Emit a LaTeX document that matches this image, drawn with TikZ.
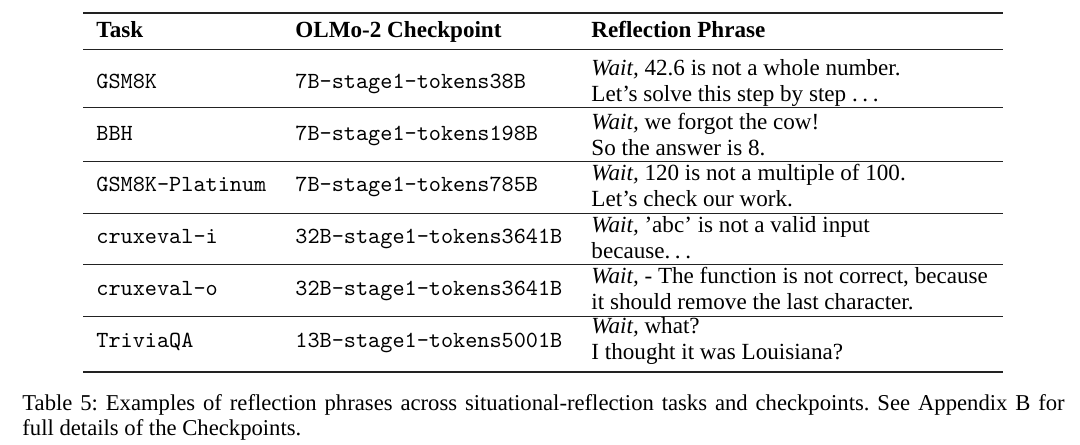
\documentclass[tikz,border=0pt]{standalone}
\usepackage{fontspec}
\setmainfont{Liberation Serif}
\usepackage{xcolor}
\usetikzlibrary{positioning}
\definecolor{RuleBlack}{HTML}{222222}
\newcommand{\spdots}{\mbox{.\kern0.2em.\kern0.2em.}}

\begin{document}
\begin{tikzpicture}[x=0.45pt, y=-0.45pt,
    cell/.style={anchor=west, inner sep=0pt, font=\fontsize{10.4}{11.7}\selectfont},
    code/.style={anchor=west, inner sep=0pt, text height=1.6ex, text depth=0.3ex,
        font=\fontsize{10.4}{12}\selectfont\ttfamily},
    head/.style={cell, text height=1.6ex, text depth=0.4ex,
        font=\fontsize{10.4}{11.7}\selectfont\bfseries},
    phrase/.style={cell, align=left},
    toprule/.style={RuleBlack, line width=1pt},
    midrule/.style={RuleBlack, line width=0.45pt}]
    \useasboundingbox (0, 0) rectangle (1080, 445);

    % Rules
    \draw[toprule] (83, 13) -- (1003, 13);
    \draw[midrule] (83, 50) -- (1003, 50);
    \draw[midrule] (83, 108) -- (1003, 108);
    \draw[midrule] (83, 161) -- (1003, 161);
    \draw[midrule] (83, 213) -- (1003, 213);
    \draw[midrule] (83, 264) -- (1003, 264);
    \draw[midrule] (83, 316) -- (1003, 316);
    \draw[toprule] (83, 372) -- (1003, 372);

    % Header
    \node[head] (task) at (96, 31) {Task};
    \node[head] (ckpt) at (295, 31) {OLMo-2 Checkpoint};
    \node[head] (phrase) at (591, 31) {Reflection Phrase};

    % Rows
    \node[code] (gsm) at (96, 82) {GSM8K};
    \node[code] (gsmckpt) at (295, 82) {7B-stage1-tokens38B};
    \node[phrase] (gsmphrase) at (591, 83) {\textit{Wait,} 42.6 is not a whole number.\\Let's solve this step by step \spdots};

    \node[code] (bbh) at (96, 134) {BBH};
    \node[code] (bbhckpt) at (295, 134) {7B-stage1-tokens198B};
    \node[phrase] (bbhphrase) at (591, 135) {\textit{Wait,} we forgot the cow!\\So the answer is 8.};

    \node[code] (plat) at (96, 185) {GSM8K-Platinum};
    \node[code] (platckpt) at (295, 185) {7B-stage1-tokens785B};
    \node[phrase] (platphrase) at (591, 186) {\textit{Wait,} 120 is not a multiple of 100.\\Let's check our work.};

    \node[code] (cruxi) at (96, 237) {cruxeval-i};
    \node[code] (cruxickpt) at (295, 237) {32B-stage1-tokens3641B};
    \node[phrase] (cruxiphrase) at (591, 238) {\textit{Wait,} 'abc' is not a valid input\\because\spdots};

    \node[code] (cruxo) at (96, 289) {cruxeval-o};
    \node[code] (cruxockpt) at (295, 289) {32B-stage1-tokens3641B};
    \node[phrase] (cruxophrase) at (591, 289) {\textit{Wait,} - The function is not correct, because\\it should remove the last character.};

    \node[code] (trivia) at (96, 341) {TriviaQA};
    \node[code] (triviackpt) at (295, 341) {13B-stage1-tokens5001B};
    \node[phrase] (triviaphrase) at (591, 341) {\textit{Wait,} what?\\I thought it was Louisiana?};

    % Caption
    \node[anchor=north west, inner sep=0pt, text width=469pt, align=justify,
          font=\fontsize{10.2}{11.3}\selectfont\frenchspacing] (caption) at (22, 394)
          {Table 5: Examples of reflection phrases across situational-reflection tasks and checkpoints. See Appendix B for\linebreak full details of the Checkpoints.};
\end{tikzpicture}
\end{document}
